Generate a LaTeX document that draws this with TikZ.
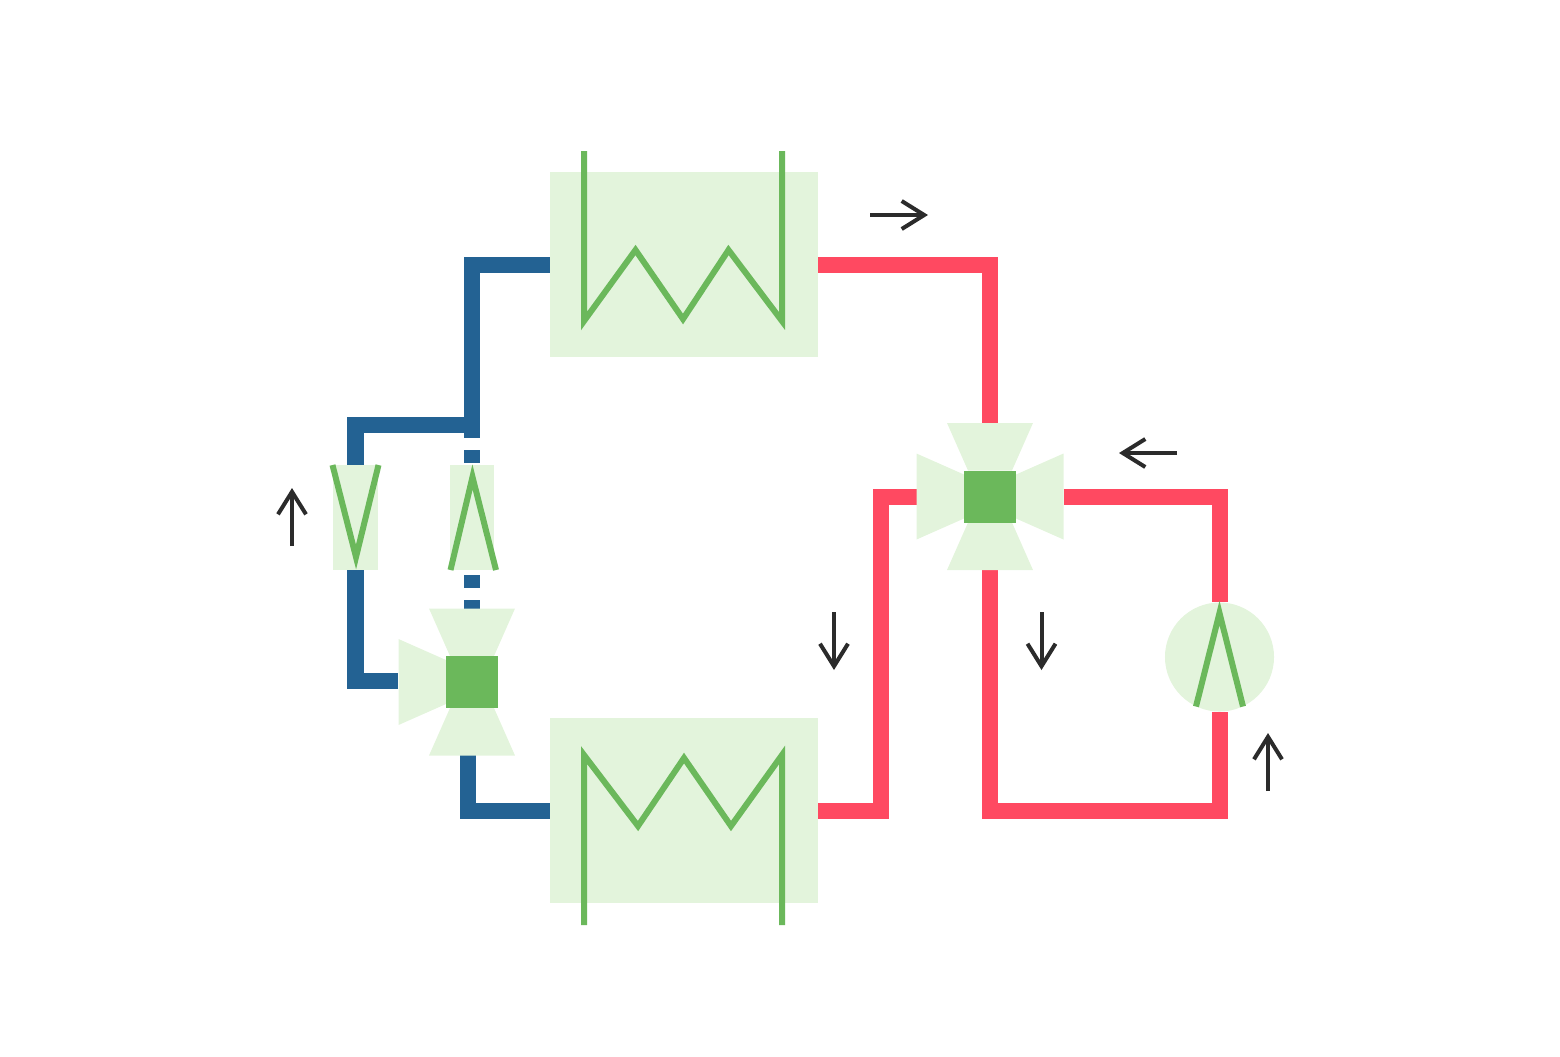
\documentclass[tikz,border=0pt]{standalone}
\usepackage{tikz}
\usetikzlibrary{calc,arrows.meta}
\definecolor{coldblue}{HTML}{236293}
\definecolor{hotred}{HTML}{FF4961}
\definecolor{coilgreen}{HTML}{6BB85B}
\definecolor{palegreen}{HTML}{E3F4DC}
\definecolor{flowgray}{HTML}{2B2B2B}

\begin{document}
\begin{tikzpicture}[x=0.01cm,y=-0.01cm,>={Straight Barb[length=2.25mm,width=2.8mm]},
    coldpipe/.style={draw=coldblue,line width=1.6mm},
    hotpipe/.style={draw=hotred,line width=1.6mm},
    coil/.style={draw=coilgreen,line width=0.6mm},
    flow/.style={->,draw=flowgray,line width=0.4mm},
    wing/.style={fill=palegreen},
    box/.style={fill=palegreen,inner sep=0pt,outer sep=0pt,minimum width=#1},
    valvecore/.style={fill=coilgreen,inner sep=0pt,outer sep=0pt,minimum size=5.2mm}]
  \useasboundingbox (0,0) rectangle (1560,1056);
  % heat exchangers
  \node[box=2.68cm,minimum height=1.85cm] (hxtop) at (684,264.5) {};
  \node[box=2.68cm,minimum height=1.85cm] (hxbot) at (684,810.5) {};
  \draw[coil] (584,151) -- (584,321) -- (635.5,250) -- (683,319) -- (728.5,250) -- (782,321) -- (782,151);
  \draw[coil] (584,925) -- (584,755) -- (638,826) -- (684,758) -- (731,826) -- (782,755) -- (782,925);
  % cold side
  \coordinate (jun) at (472,425);
  \coordinate (valveLn) at (472,609);
  \coordinate (valveLw) at (398,681);
  \coordinate (valveLs) at (468,755);
  \draw[coldpipe] (hxtop.west) -| (jun);
  \draw[coldpipe,dash pattern=on 1.25mm off 1.25mm] (jun) -- (valveLn);
  \node[box=0.45cm,minimum height=1.05cm] (checkL) at (355.5,517.5) {};
  \node[box=0.44cm,minimum height=1.05cm] (checkR) at (472,517.5) {};
  \draw[coldpipe] (jun) -| (checkL.north);
  \draw[coldpipe] (checkL.south) |- (valveLw);
  \draw[coldpipe] (valveLs) |- (hxbot.west);
  \draw[coil] (332.5,465) -- (356,557) -- (378.5,465);
  \draw[coil] (450.5,570) -- (472.5,477) -- (496,570);
  % expansion valve
  \foreach \r in {0,90,180}
    \fill[wing,shift={(472,682)},rotate=\r] (-43,-73.5) -- (43,-73.5) -- (22,-26) -- (-22,-26) -- cycle;
  \node[valvecore] (valveL) at (472,682) {};
  % hot side
  \coordinate (valveRn) at (990,423);
  \coordinate (valveRs) at (990,570);
  \coordinate (valveRw) at (916.5,497);
  \coordinate (valveRe) at (1064,497);
  \node[circle,fill=palegreen,inner sep=0pt,outer sep=0pt,minimum size=1.09cm] (pump) at (1219.5,657) {};
  \draw[hotpipe] (hxtop.east) -| (valveRn);
  \draw[hotpipe] (hxbot.east) -| (880.5,497) -- (valveRw);
  \draw[hotpipe] (valveRe) -| (pump.north);
  \draw[hotpipe] (valveRs) |- (1219.5,811) -- (pump.south);
  \draw[coil] (1196,706.5) -- (1219.5,613) -- (1243,706.5);
  % four way valve
  \foreach \r in {0,90,180,270}
    \fill[wing,shift={(990,496.5)},rotate=\r] (-43,-73.5) -- (43,-73.5) -- (22,-26) -- (-22,-26) -- cycle;
  \node[valvecore] (valveR) at (990,496.5) {};
  % flow arrows
  \draw[flow] (870,215) -- (928,215);
  \draw[flow] (1177,453) -- (1119,453);
  \draw[flow] (292,546) -- (292,488);
  \draw[flow] (834,612) -- (834,670);
  \draw[flow] (1041.5,612) -- (1041.5,670);
  \draw[flow] (1268,791) -- (1268,733);
\end{tikzpicture}
\end{document}
